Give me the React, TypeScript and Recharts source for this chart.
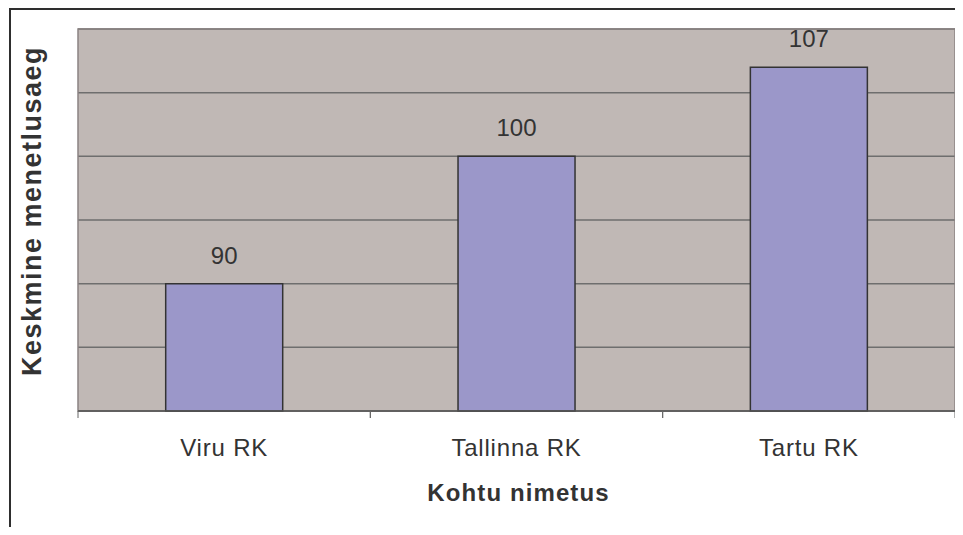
import { BarChart, Bar, XAxis, YAxis, CartesianGrid, LabelList, Label, ReferenceArea } from 'recharts'

// Keskmine menetlusaeg kohtute kaupa
const categories = ['Viru RK', 'Tallinna RK', 'Tartu RK']
const values = [90, 100, 107]
const yTicks = [80, 85, 90, 95, 100, 105, 110]

const data = categories.map((name, i) => ({ name, value: values[i] }))

const FONT = '"Liberation Sans", Arial, Helvetica, sans-serif'
const TEXT = '#333333'

function CategoryTick(props: any) {
  const { x, y, payload, width } = props
  const half = payload?.offset || width / (2 * categories.length)
  return (
    <g>
      <line x1={x - half} x2={x - half} y1={y} y2={y + 7} stroke="#666" />
      <line x1={x + half} x2={x + half} y1={y} y2={y + 7} stroke="#666" />
      <text x={x} y={y + 45} textAnchor="middle" fill={TEXT} fontSize={24} letterSpacing={0.8} fontFamily={FONT}>
        {payload.value}
      </text>
    </g>
  )
}

const NoTick = () => <g />

export default function App() {
  return (
    <div style={{ position: 'relative', margin: -8, width: 963, height: 535, background: '#fff', overflow: 'hidden' }}>
      <div
        style={{
          position: 'absolute',
          left: 9,
          top: 8,
          width: 980,
          height: 560,
          borderLeft: '2px solid #2e2e2e',
          borderTop: '2px solid #2e2e2e',
        }}
      />
      <div style={{ position: 'absolute', left: 0, top: 0 }}>
        <BarChart
          width={963}
          height={535}
          data={data}
          margin={{ top: 29, right: 8, left: 8, bottom: 34 }}
          barCategoryGap="30%"
        >
          <CartesianGrid
            vertical={false}
            fill="#c0b8b5"
            fillOpacity={1}
            stroke="#6e6e6e"
            strokeWidth={1.5}
          />
          <ReferenceArea
            x1={categories[0]}
            x2={categories[categories.length - 1]}
            y1={yTicks[0]}
            y2={yTicks[yTicks.length - 1]}
            fill="none"
            stroke="#8a8282"
            strokeWidth={1.5}
          />
          <XAxis
            dataKey="name"
            height={90}
            tickSize={0}
            tickMargin={0}
            tickLine={false}
            axisLine={{ stroke: '#555', strokeWidth: 1.5 }}
            tick={<CategoryTick />}
            interval={0}
          >
            <Label
              content={({ viewBox }: any) => (
                <text
                  x={viewBox.x + viewBox.width / 2 + 2}
                  y={viewBox.y + 90}
                  textAnchor="middle"
                  fill={TEXT}
                  fontSize={24}
                  fontWeight="bold"
                  fontFamily={FONT}
                  letterSpacing={1.1}
                >
                  Kohtu nimetus
                </text>
              )}
            />
          </XAxis>
          <YAxis
            width={70}
            domain={[80, 110]}
            ticks={yTicks}
            tick={<NoTick />}
            tickLine={false}
            axisLine={false}
          >
            <Label
              content={({ viewBox }: any) => {
                const cx = viewBox.x + 24
                const cy = viewBox.y + viewBox.height / 2 - 9
                return (
                  <text
                    x={cx}
                    y={cy}
                    transform={`rotate(-90 ${cx} ${cy})`}
                    textAnchor="middle"
                    dominantBaseline="central"
                    fill={TEXT}
                    fontSize={27}
                    fontWeight="bold"
                    fontFamily={FONT}
                    letterSpacing={1.5}
                  >
                    Keskmine menetlusaeg
                  </text>
                )
              }}
            />
          </YAxis>
          <Bar dataKey="value" fill="#9b97c9" stroke="#333" strokeWidth={1.5} isAnimationActive={false}>
            <LabelList dataKey="value" position="top" offset={20} fill={TEXT} fontSize={24} fontFamily={FONT} />
          </Bar>
        </BarChart>
      </div>
    </div>
  )
}
